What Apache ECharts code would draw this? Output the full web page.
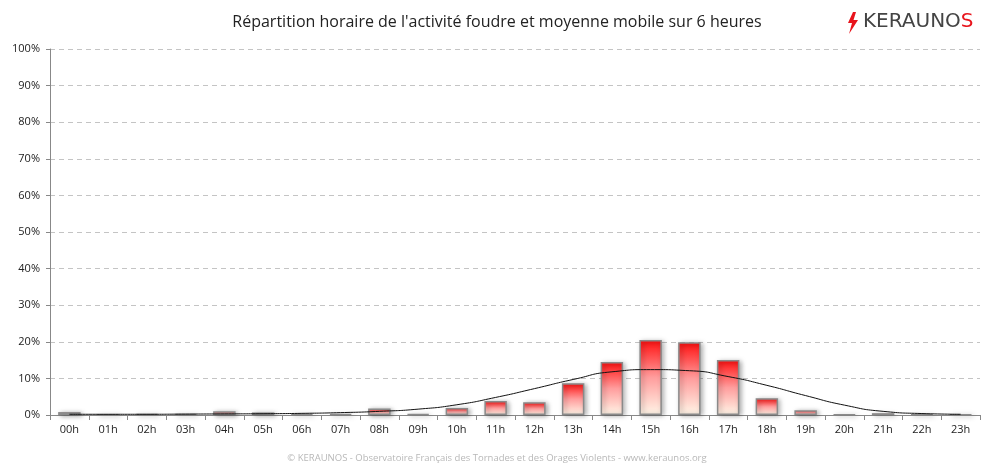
<!DOCTYPE html>
<html><head><meta charset="utf-8">
<script src="https://cdn.jsdelivr.net/npm/echarts@6/dist/echarts.min.js"></script>
<style>html,body{margin:0;padding:0;background:#fff}#c{width:994px;height:472px}</style>
</head><body><div id="c"></div>
<script>
const hours = ['00h','01h','02h','03h','04h','05h','06h','07h','08h','09h','10h','11h','12h','13h','14h','15h','16h','17h','18h','19h','20h','21h','22h','23h'];
const activity = [0.8,0.2,0.3,0.3,1.0,0.7,0.3,0.3,1.8,0.3,1.9,3.8,3.5,8.7,14.5,20.5,19.9,15.0,4.6,1.3,0.2,0.5,0.2,0.2];
const movingAvg = [0.2,0.2,0.2,0.25,0.3,0.35,0.45,0.65,1.0,1.6,2.8,4.8,7.2,9.7,11.8,12.4,12.1,10.5,8.1,5.3,2.7,1.0,0.4,0.2];
const yTicks = [0,10,20,30,40,50,60,70,80,90,100];

const chart = echarts.init(document.getElementById('c'));
const FONT = '"Open Sans", "DejaVu Sans", sans-serif';
chart.setOption({
  animation: false,
  title: {
    text: "Répartition horaire de l'activité foudre et moyenne mobile sur 6 heures",
    left: 'center', top: 9,
    textStyle: {fontFamily: FONT, fontSize: 16, fontWeight: 'normal', color: '#222'}
  },
  grid: {left: 50, right: 14, top: 49, bottom: 57},
  xAxis: {
    type: 'category', data: hours, boundaryGap: true,
    axisLine: {lineStyle: {color: '#888'}},
    axisTick: {show: true, length: 5, lineStyle: {color: '#888'}},
    axisLabel: {fontFamily: FONT, fontSize: 11, color: '#222', margin: 9}
  },
  yAxis: {
    type: 'value', min: 0, max: 100, interval: 10,
    axisLine: {show: true, lineStyle: {color: '#888'}},
    axisTick: {show: true, length: 4, lineStyle: {color: '#888'}},
    axisLabel: {fontFamily: FONT, fontSize: 11, color: '#222', margin: 10,
      formatter: v => yTicks.includes(v) ? v + '%' : ''},
    splitLine: {lineStyle: {color: '#c4c4c4', type: [5, 4]}}
  },
  series: [
    {
      type: 'bar', data: activity, barWidth: '58%',
      itemStyle: {
        color: new echarts.graphic.LinearGradient(0, 0, 0, 1, [
          {offset: 0, color: '#ff1010'},
          {offset: 0.5, color: '#ff9d9d'},
          {offset: 1, color: '#fff6e8'}
        ]),
        borderColor: '#8a8a8a', borderWidth: 1.5,
        shadowColor: 'rgba(0,0,0,0.35)', shadowBlur: 5, shadowOffsetX: 2, shadowOffsetY: 1
      }
    },
    {
      type: 'line', data: movingAvg, smooth: 0.6, symbol: 'none',
      lineStyle: {color: '#111', width: 1}
    }
  ],
  graphic: [
    {
      type: 'text', left: 'center', top: 453,
      style: {text: '© KERAUNOS - Observatoire Français des Tornades et des Orages Violents - www.keraunos.org',
        font: '9.5px ' + FONT, fill: '#b8b8b8'}
    },
    {
      type: 'polygon', left: 848, top: 12,
      shape: {points: [[6,0],[1,11],[5,11],[2,22],[11,8],[6.5,8],[9,0]]},
      style: {fill: '#e8141c'}
    },
    {
      type: 'text', left: 863, top: 12,
      style: {
        text: '{a|KERAUNO}{b|S}',
        rich: {
          a: {fontFamily: '"DejaVu Sans", sans-serif', fontSize: 20, fill: '#444', color: '#444'},
          b: {fontFamily: '"DejaVu Sans", sans-serif', fontSize: 20, fill: '#e8141c', color: '#e8141c'}
        }
      }
    }
  ]
});
</script></body></html>
